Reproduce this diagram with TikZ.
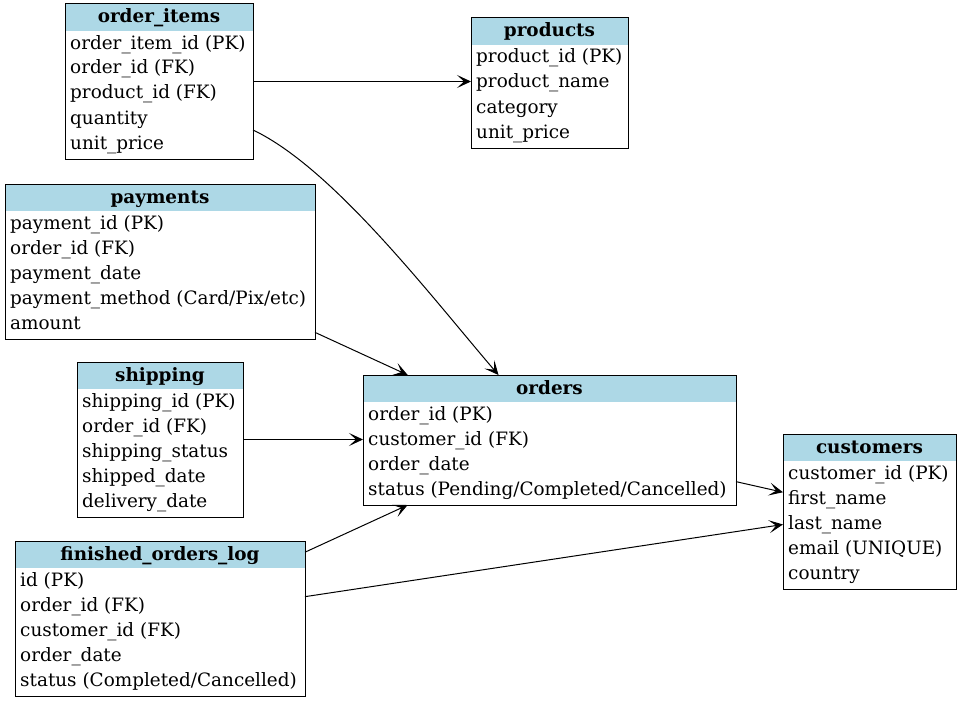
\documentclass[tikz,border=0pt]{standalone}
\usepackage{fontspec}
\setmainfont{DejaVu Serif}
\usetikzlibrary{arrows.meta,calc}
\definecolor{hdrblue}{HTML}{ADD8E6}
\tikzset{
  tbox/.style={draw=black, line width=1pt, fill=none, inner sep=0pt, outer sep=0pt, anchor=north west},
  hdr/.style={fill=hdrblue, draw=none, inner sep=0pt, outer sep=0pt, minimum height=27pt, anchor=north west},
  hdrtext/.style={inner sep=0pt, anchor=base, font=\fontsize{18.4}{21}\selectfont\bfseries},
  rowtext/.style={inner sep=0pt, anchor=base west, font=\fontsize{18.4}{21}\selectfont},
  rel/.style={draw=black, line width=1pt, -{Stealth[length=14pt, width=13pt, inset=7pt]}}
}
% #1 name, #2 left, #3 top, #4 width, #5 number of rows, #6 title, #7 rows
\newcommand{\dbtable}[7]{%
  \node[hdr, minimum width=#4] (#1-h) at (#2,#3) {};
  \node[hdrtext] (#1-t) at ({#2+#4/2},{#3+19}) {#6};
  \foreach \r [count=\i] in {#7} {
    \node[rowtext] (#1-\i) at ({#2+5},{#3+20+25*\i}) {\r};
  }
  \node[tbox, minimum width=#4, minimum height={30+25*#5}] (#1) at (#2,#3) {};
}
\begin{document}
\begin{tikzpicture}[x=1pt,y=-1pt]
\useasboundingbox (0,0) rectangle (961,701);
\dbtable{oi}{65}{4}{188}{5}{order\_items}{order\_item\_id (PK),order\_id (FK),product\_id (FK),quantity,unit\_price}
\dbtable{prod}{471}{18}{157}{4}{products}{product\_id (PK),product\_name,category,unit\_price}
\dbtable{pay}{5}{184}{310}{5}{payments}{payment\_id (PK),order\_id (FK),payment\_date,payment\_method (Card/Pix/etc),amount}
\dbtable{ship}{77}{362}{166}{5}{shipping}{shipping\_id (PK),order\_id (FK),shipping\_status,shipped\_date,delivery\_date}
\dbtable{ord}{363}{375}{373}{4}{orders}{order\_id (PK),customer\_id (FK),order\_date,status (Pending/Completed/Cancelled)}
\dbtable{cust}{783}{434}{173}{5}{customers}{customer\_id (PK),first\_name,last\_name,email (UNIQUE),country}
\dbtable{fol}{15}{541}{290}{5}{finished\_orders\_log}{id (PK),order\_id (FK),customer\_id (FK),order\_date,status (Completed/Cancelled)}

\draw[rel] (oi.east) -- (oi.east -| prod.west);
\draw[rel] ([yshift=-48.5pt]oi.east) .. controls (333,168) and (430,295) .. ([xshift=-51pt]ord.north);
\draw[rel] (pay) -- (ord);
\draw[rel] (ship.east) -- (ship.east -| ord.west);
\draw[rel] (fol) -- (ord);
\draw[rel] (ord) -- (cust);
\draw[rel] (fol) -- (cust);
\end{tikzpicture}
\end{document}
